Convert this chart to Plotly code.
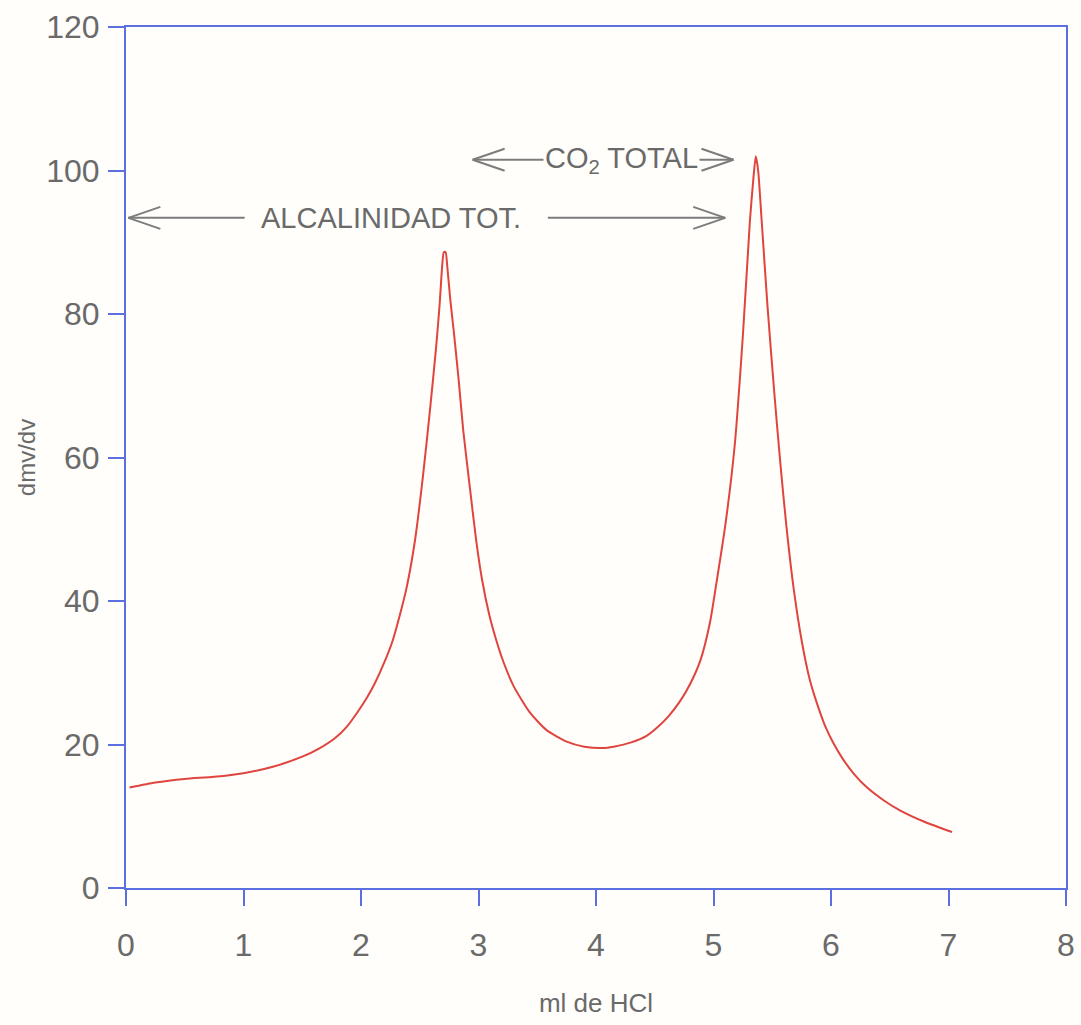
import plotly.graph_objects as go

# ---- data ----
ml_hcl = [0.03, 0.25, 0.50, 0.75, 1.00, 1.25, 1.50, 1.65, 1.78, 1.88,
          1.97, 2.05, 2.12, 2.20, 2.27, 2.33, 2.39, 2.46, 2.53, 2.59,
          2.64, 2.67, 2.69, 2.705, 2.72, 2.735, 2.76, 2.79, 2.83, 2.87,
          2.93, 2.98, 3.03, 3.09, 3.15, 3.21, 3.30, 3.44, 3.58, 3.75,
          3.90, 4.06, 4.15, 4.30, 4.43, 4.53, 4.62, 4.71, 4.80, 4.89,
          4.97, 5.02, 5.10, 5.18, 5.25, 5.31, 5.34, 5.36, 5.38, 5.41,
          5.46, 5.52, 5.57, 5.62, 5.68, 5.75, 5.82, 5.90, 5.96, 6.02,
          6.10, 6.20, 6.30, 6.45, 6.59, 6.80, 7.03]
dmv_dv = [14.0, 14.7, 15.2, 15.5, 16.0, 16.9, 18.3, 19.5, 20.9, 22.5,
          24.5, 26.5, 28.6, 31.5, 34.5, 38.0, 42.0, 48.5, 57.8, 67.1,
          75.5, 81.5, 86.5, 88.6, 88.6, 86.5, 82.0, 77.5, 71.0, 63.8,
          55.3, 48.5, 43.0, 38.2, 34.6, 31.6, 28.1, 24.4, 22.0, 20.4,
          19.7, 19.5, 19.7, 20.3, 21.2, 22.5, 24.0, 25.9, 28.4, 31.8,
          37.0, 42.0, 50.5, 61.6, 77.0, 93.0, 99.0, 102.0, 100.0, 93.0,
          81.0, 68.5, 59.0, 50.5, 42.0, 34.5, 29.0, 24.8, 22.2, 20.2,
          18.0, 15.8, 14.1, 12.2, 10.8, 9.2, 7.8]

x_ticks = [0, 1, 2, 3, 4, 5, 6, 7, 8]
y_ticks = [0, 20, 40, 60, 80, 100, 120]

x_title = "ml de HCl"
y_title = "dmv/dv"

# annotation labels: text, centre x, centre y
label_texts = ["ALCALINIDAD TOT.", "CO<sub>2</sub> TOTAL"]
label_x = [2.255, 4.22]
label_y = [93.4, 101.5]

# arrows: tip x, tail x, y
arrow_tip = [0.02, 5.10, 2.95, 5.17]
arrow_tail = [1.01, 3.59, 3.57, 4.86]
arrow_y = [93.4, 93.4, 101.5, 101.5]

AXIS_BLUE = "#5b6fe0"
TEXT_GREY = "#6a6a6a"
ARROW_GREY = "#7c7c7c"
CURVE_RED = "#e0443e"

fig = go.Figure()
fig.add_trace(go.Scatter(
    x=ml_hcl, y=dmv_dv, mode="lines",
    line=dict(color=CURVE_RED, width=2, shape="spline", smoothing=0.6),
    showlegend=False, hoverinfo="x+y"))

# arrows drawn as line shapes (shaft + open chevron head)
px_per_x = 940 / 8.0
px_per_y = 861 / 120.0
arm_dx = 32 / px_per_x
arm_dy = 11 / px_per_y
shapes = []
for tip, tail, y in zip(arrow_tip, arrow_tail, arrow_y):
    d = 1 if tip > tail else -1
    line = dict(color=ARROW_GREY, width=2)
    shapes.append(dict(type="line", xref="x", yref="y", x0=tail, y0=y, x1=tip, y1=y, line=line))
    shapes.append(dict(type="line", xref="x", yref="y", x0=tip - d * arm_dx, y0=y + arm_dy, x1=tip, y1=y, line=line))
    shapes.append(dict(type="line", xref="x", yref="y", x0=tip - d * arm_dx, y0=y - arm_dy, x1=tip, y1=y, line=line))

annotations = []
for t, x, y in zip(label_texts, label_x, label_y):
    annotations.append(dict(
        text=t, x=x, y=y, xref="x", yref="y", showarrow=False,
        xanchor="center", yanchor="middle", bgcolor="#fffefb",
        font=dict(family="Liberation Sans, Arial", size=29, color=TEXT_GREY)))

axis_common = dict(
    showline=True, linecolor=AXIS_BLUE, linewidth=2, mirror=True,
    ticks="outside", tickcolor=AXIS_BLUE, tickwidth=2, ticklen=16,
    showgrid=False, zeroline=False, automargin=False,
    tickfont=dict(family="Liberation Sans, Arial", size=32, color=TEXT_GREY),
)

fig.update_layout(
    width=1081, height=1025,
    margin=dict(l=126, r=15, t=27, b=137),
    paper_bgcolor="#fffefb", plot_bgcolor="#fffefb",
    shapes=shapes, annotations=annotations,
    xaxis=dict(range=[0, 8], tickvals=x_ticks, ticklabelstandoff=12,
               title=dict(text=x_title, standoff=31,
                          font=dict(family="Liberation Sans, Arial", size=26, color=TEXT_GREY)),
               **axis_common),
    yaxis=dict(range=[0, 120], tickvals=y_ticks, ticklabelstandoff=2,
               title=dict(text=y_title, standoff=4,
                          font=dict(family="Liberation Sans, Arial", size=24, color=TEXT_GREY)),
               **axis_common),
)

fig.write_html("out.html")
